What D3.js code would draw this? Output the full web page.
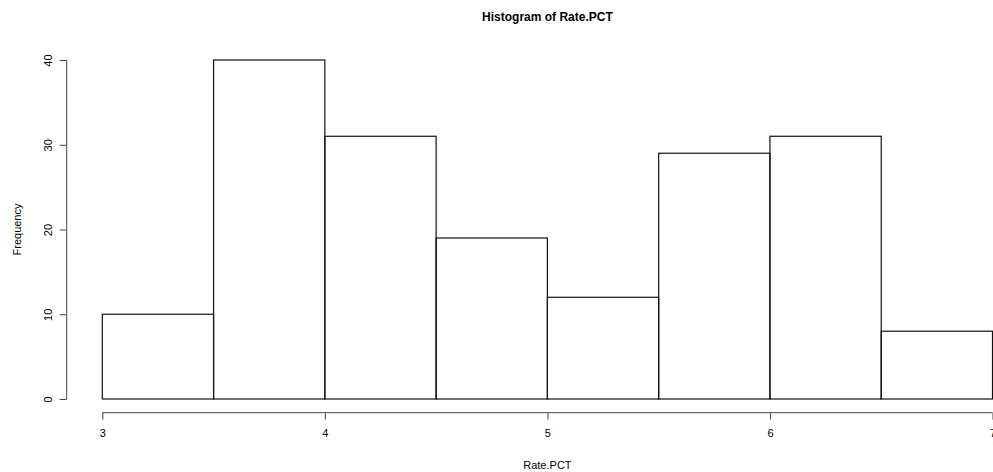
<html>
  <head>
    <script src="https://d3js.org/d3.v7.min.js"></script>
    <style>
      body { margin: 0; background: #fff; }
      text { font-family: "Liberation Sans", Arial, sans-serif; fill: #000; }
    </style>
  </head>
  <body>
    <div id="dataviz"></div>
    <script>
      // histogram bins of Rate.PCT
      var binStarts = [3, 3.5, 4, 4.5, 5, 5.5, 6, 6.5];
      var binWidth = 0.5;
      var counts = [10, 40, 31, 19, 12, 29, 31, 8];
      var xTicks = [3, 4, 5, 6, 7];
      var yTicks = [0, 10, 20, 30, 40];

      var W = 993, H = 472;
      var svg = d3.select("#dataviz")
        .append("svg")
          .attr("width", W)
          .attr("height", H);

      var x = d3.scaleLinear()
        .domain([3, 7])
        .range([102.3, 992.5]);

      var y = d3.scaleLinear()
        .domain([0, 40])
        .range([399, 60]);

      // bars
      svg.append("g")
        .selectAll("rect")
        .data(binStarts)
        .enter().append("rect")
          .attr("x", function(d) { return x(d); })
          .attr("y", function(d, i) { return y(counts[i]); })
          .attr("width", function(d) { return x(d + binWidth) - x(d); })
          .attr("height", function(d, i) { return y(0) - y(counts[i]); })
          .attr("fill", "none")
          .attr("stroke", "#111")
          .attr("stroke-width", 1.2);

      // x axis (R style, offset below)
      var xAxis = svg.append("g")
        .attr("transform", "translate(0,412.7)")
        .call(d3.axisBottom(x).tickValues(xTicks).tickSize(7).tickPadding(10).tickFormat(d3.format("d")));
      xAxis.select(".domain").attr("d", "M" + x(3) + ",0H" + x(7)).attr("stroke", "#444");
      xAxis.selectAll(".tick line").attr("stroke", "#444");
      xAxis.selectAll("text").attr("font-size", 11).attr("fill", "#000");

      // y axis
      var yAxis = svg.append("g")
        .attr("transform", "translate(66.7,0)")
        .call(d3.axisLeft(y).tickValues(yTicks).tickSize(7).tickPadding(0));
      yAxis.select(".domain").attr("d", "M0," + y(0) + "V" + y(40)).attr("stroke", "#444");
      yAxis.selectAll(".tick line").attr("stroke", "#444");
      yAxis.selectAll("text")
        .attr("font-size", 11)
        .attr("fill", "#000")
        .attr("x", 0)
        .attr("dy", 0)
        .attr("text-anchor", "middle")
        .attr("transform", "translate(-19,0) rotate(-90)")
        .attr("y", 4);

      // titles
      svg.append("text")
        .attr("x", (x(3) + x(7)) / 2)
        .attr("y", 21)
        .attr("text-anchor", "middle")
        .attr("font-size", 12)
        .attr("font-weight", "bold")
        .text("Histogram of Rate.PCT");

      svg.append("text")
        .attr("x", (x(3) + x(7)) / 2)
        .attr("y", 469)
        .attr("text-anchor", "middle")
        .attr("font-size", 11)
        .text("Rate.PCT");

      svg.append("text")
        .attr("transform", "translate(21," + (y(0) + y(40)) / 2 + ") rotate(-90)")
        .attr("text-anchor", "middle")
        .attr("font-size", 11)
        .text("Frequency");
    </script>
  </body>
</html>
